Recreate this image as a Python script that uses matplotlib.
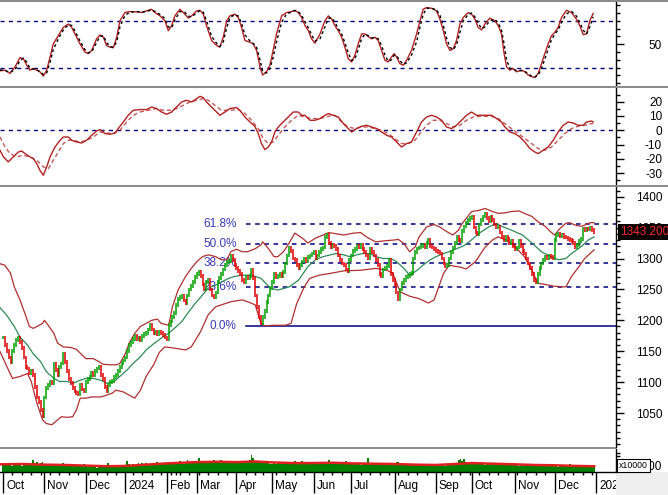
import numpy as np
import pandas as pd
import matplotlib
matplotlib.use("Agg")
import matplotlib.pyplot as plt
from matplotlib.patches import Rectangle
from matplotlib.transforms import blended_transform_factory

plt.rcParams["font.family"] = ["Liberation Sans", "DejaVu Sans"]
plt.rcParams["font.size"] = 8.5

# === 1. Datos ===
holidays = ["2024-01-01", "2024-02-08", "2024-02-09", "2024-02-12", "2024-02-13",
            "2024-02-14", "2024-04-18", "2024-04-29", "2024-04-30", "2024-05-01",
            "2024-09-02", "2024-09-03"]
trade_days = pd.bdate_range("2023-10-02", "2024-12-31")
trade_days = trade_days[~trade_days.isin(pd.to_datetime(holidays))]

close = [
    1172, 1160, 1150, 1140, 1132, 1150, 1160, 1168, 1172, 1165,
    1155, 1140, 1125, 1122, 1115, 1118, 1112, 1092, 1075, 1068,
    1055, 1045, 1075, 1090, 1095, 1100, 1098, 1130, 1120, 1112,
    1125, 1130, 1145, 1132, 1118, 1105, 1098, 1090, 1085, 1082,
    1080, 1095, 1088, 1085, 1100, 1105, 1108, 1115, 1112, 1118,
    1122, 1125, 1112, 1105, 1092, 1085, 1095, 1100, 1102, 1108,
    1112, 1118, 1125, 1130, 1135, 1140, 1150, 1160, 1165, 1170,
    1175, 1170, 1172, 1168, 1175, 1178, 1180, 1185, 1192, 1185,
    1180, 1182, 1178, 1182, 1180, 1176, 1172, 1170, 1192, 1198,
    1205, 1212, 1225, 1235, 1238, 1240, 1232, 1228, 1240, 1250,
    1256, 1262, 1270, 1275, 1278, 1272, 1258, 1250, 1262, 1265,
    1250, 1240, 1238, 1245, 1262, 1268, 1275, 1282, 1290, 1294,
    1296, 1305, 1298, 1290, 1285, 1280, 1275, 1265, 1262, 1270,
    1268, 1272, 1282, 1268, 1240, 1222, 1205, 1195, 1205, 1215,
    1230, 1240, 1252, 1262, 1275, 1270, 1272, 1275, 1272, 1278,
    1292, 1305, 1318, 1312, 1300, 1298, 1290, 1285, 1290, 1295,
    1300, 1296, 1302, 1305, 1308, 1310, 1300, 1305, 1310, 1315,
    1318, 1335, 1338, 1325, 1318, 1322, 1320, 1315, 1305, 1298,
    1292, 1290, 1282, 1280, 1298, 1305, 1312, 1315, 1320, 1318,
    1322, 1315, 1310, 1305, 1300, 1316, 1310, 1305, 1298, 1290,
    1275, 1272, 1282, 1285, 1288, 1298, 1275, 1265, 1258, 1245,
    1235, 1250, 1260, 1265, 1270, 1272, 1275, 1276, 1300, 1310,
    1316, 1318, 1320, 1322, 1318, 1325, 1330, 1320, 1318, 1315,
    1312, 1310, 1308, 1300, 1292, 1288, 1290, 1300, 1310, 1318,
    1325, 1335, 1330, 1328, 1345, 1352, 1358, 1362, 1365, 1368,
    1350, 1342, 1340, 1355, 1362, 1368, 1372, 1365, 1360, 1368,
    1362, 1355, 1350, 1352, 1342, 1335, 1330, 1335, 1332, 1325,
    1328, 1320, 1315, 1318, 1328, 1320, 1312, 1308, 1300, 1292,
    1285, 1275, 1265, 1262, 1275, 1285, 1292, 1298, 1302, 1300,
    1305, 1302, 1300, 1330, 1338, 1340, 1336, 1338, 1335, 1334,
    1332, 1330, 1328, 1325, 1318, 1322, 1328, 1332, 1348, 1346,
    1348, 1347, 1349, 1346, 1343.2,
]

# volumen (x10000 cp, en miles)
volume = [
    26, 24, 22, 28, 25, 20, 23, 27, 21, 24, 19, 25, 29, 22, 26, 24, 38, 27, 30, 26, 28, 31,
    22, 20, 24, 18, 21, 25, 19, 23, 20, 22, 27, 18, 21, 24, 20, 19, 23, 21, 18, 22, 20, 25,
    18, 16, 20, 15, 17, 19, 14, 18, 16, 21, 17, 15, 28, 19, 17, 16, 20, 18, 15, 17, 19,
    20, 35, 24, 22, 26, 21, 25, 28, 23, 27, 24, 29, 26, 22, 25, 28, 24, 30, 26, 23, 27, 25,
    26, 29, 24, 28, 32, 30, 27, 33, 29, 26, 31, 38, 30, 28, 34, 31,
    32, 44, 35, 30, 34, 29, 36, 33, 31, 38, 35, 30, 33, 37, 32, 29, 34, 31, 36, 33, 30,
    29, 33, 31, 28, 35, 30, 32, 38, 52, 45, 36, 33, 30, 28, 32, 29, 27, 31, 26,
    24, 27, 25, 30, 28, 26, 29, 25, 27, 31, 28, 26, 36, 30, 27, 29, 33, 28, 26, 30, 27, 25,
    28, 26, 30, 27, 29, 32, 27, 25, 38, 30, 28, 31, 27, 29, 26, 30, 28, 33, 27, 29,
    25, 27, 24, 28, 26, 23, 25, 27, 24, 44, 28, 26, 23, 25, 27, 22, 24, 26, 23, 25, 28, 24, 26,
    25, 30, 32, 27, 24, 22, 26, 23, 21, 24, 22, 25, 23, 21, 24, 22, 20, 23, 25, 22, 24, 21,
    20, 22, 19, 21, 23, 20, 22, 24, 21, 25, 27, 23, 38, 42, 35, 40, 30, 28, 26,
    28, 25, 27, 24, 26, 29, 25, 23, 26, 24, 22, 25, 27, 23, 24, 22, 26, 21, 23, 25, 22, 24, 23,
    21, 23, 20, 22, 19, 24, 21, 20, 22, 25, 21, 23, 19, 22, 20, 21, 24, 20, 22, 19, 21,
    18, 20, 17, 19, 21, 18, 20, 17, 24, 19, 18, 20, 17, 19, 18, 16, 19, 17, 18, 22, 16, 17,
]

vol_ma = [(-2, 24), (10, 25), (22, 23), (33, 22), (44, 20), (55, 18), (65, 19), (76, 23),
          (87, 27), (95, 29), (103, 31), (114, 32), (124, 31), (134, 33), (143, 30),
          (154, 28), (165, 28), (175, 29), (185, 27), (196, 26), (208, 25), (219, 23),
          (230, 22), (240, 25), (249, 28), (260, 26), (272, 24), (282, 22), (293, 21),
          (304, 19), (314, 18)]

# Bandas de Bollinger (dia, valor)
bb_upper = [(-2, 1292), (1, 1289), (4, 1276), (6, 1254), (9, 1233), (12, 1208), (14, 1190),
            (16, 1187), (18, 1190), (21, 1195), (22, 1200), (24, 1192), (27, 1179), (29, 1163),
            (32, 1157), (36, 1156), (39, 1153), (42, 1144), (44, 1138), (48, 1138), (51, 1133),
            (53, 1129), (57, 1128), (60, 1128), (62, 1130), (65, 1146), (67, 1163), (70, 1179),
            (73, 1190), (76, 1195), (79, 1200), (82, 1202), (84, 1195), (88, 1192), (90, 1222),
            (93, 1249), (97, 1271), (100, 1284), (103, 1295), (106, 1303), (109, 1306),
            (113, 1303), (116, 1298), (119, 1298), (121, 1311), (124, 1315), (127, 1311),
            (130, 1311), (134, 1316), (137, 1322), (138, 1327), (141, 1316), (144, 1303),
            (146, 1303), (149, 1311), (152, 1325), (155, 1341), (159, 1333), (162, 1325),
            (166, 1333), (170, 1338), (173, 1342), (177, 1340), (181, 1338), (186, 1341),
            (190, 1342), (193, 1335), (196, 1330), (198, 1327), (204, 1329), (208, 1330),
            (210, 1331), (213, 1324), (216, 1311), (219, 1319), (221, 1335), (225, 1351),
            (229, 1355), (232, 1351), (236, 1343), (239, 1338), (242, 1346), (244, 1357),
            (249, 1376), (253, 1378), (256, 1381), (260, 1376), (263, 1373), (267, 1374),
            (270, 1376), (274, 1377), (277, 1373), (281, 1368), (284, 1360), (288, 1352),
            (291, 1343), (293, 1338), (296, 1349), (299, 1357), (301, 1358), (304, 1354),
            (307, 1352), (309, 1354), (312, 1358), (314, 1358)]
bb_mid = [(-2, 1222), (2, 1208), (6, 1190), (9, 1173), (13, 1160), (16, 1146), (20, 1133),
          (23, 1117), (27, 1106), (30, 1101), (34, 1101), (37, 1098), (41, 1103), (44, 1106),
          (48, 1106), (52, 1103), (55, 1098), (59, 1101), (62, 1109), (66, 1120), (69, 1130),
          (73, 1141), (76, 1152), (80, 1162), (84, 1171), (88, 1179), (91, 1187), (95, 1198),
          (98, 1211), (102, 1227), (106, 1241), (109, 1252), (113, 1257), (116, 1262),
          (120, 1268), (123, 1271), (127, 1273), (132, 1273), (137, 1268), (142, 1252),
          (146, 1249), (152, 1254), (157, 1265), (162, 1287), (166, 1298), (170, 1303),
          (174, 1306), (177, 1308), (181, 1306), (184, 1303), (188, 1306), (191, 1308),
          (195, 1308), (198, 1303), (202, 1300), (206, 1300), (209, 1295), (213, 1284),
          (216, 1273), (220, 1281), (223, 1289), (227, 1298), (230, 1303), (234, 1308),
          (237, 1311), (241, 1316), (245, 1321), (248, 1328), (253, 1341), (258, 1351),
          (262, 1357), (265, 1352), (270, 1346), (276, 1338), (281, 1325), (286, 1311),
          (291, 1303), (295, 1298), (299, 1300), (302, 1308), (307, 1319), (311, 1330),
          (314, 1335)]
bb_lower = [(-2, 1152), (5, 1106), (9, 1109), (13, 1114), (15, 1101), (18, 1066), (21, 1039),
            (23, 1033), (26, 1031), (29, 1039), (31, 1044), (34, 1043), (37, 1044), (39, 1055),
            (41, 1074), (44, 1074), (47, 1076), (52, 1076), (55, 1079), (58, 1082), (60, 1087),
            (64, 1084), (67, 1079), (70, 1074), (73, 1087), (76, 1109), (80, 1128), (83, 1148),
            (86, 1157), (91, 1155), (97, 1152), (100, 1157), (105, 1182), (109, 1209),
            (113, 1222), (116, 1225), (121, 1230), (127, 1233), (130, 1230), (134, 1225),
            (137, 1195), (139, 1191), (144, 1192), (150, 1192), (153, 1195), (156, 1227),
            (160, 1254), (163, 1268), (168, 1273), (174, 1276), (181, 1280), (190, 1281),
            (198, 1284), (204, 1281), (207, 1276), (211, 1246), (216, 1239), (221, 1235),
            (226, 1228), (229, 1233), (234, 1276), (237, 1289), (243, 1286), (246, 1283),
            (251, 1295), (256, 1318), (260, 1330), (263, 1335), (267, 1330), (272, 1319),
            (277, 1303), (281, 1281), (284, 1260), (288, 1258), (293, 1255), (299, 1254),
            (302, 1271), (306, 1287), (309, 1300), (314, 1314)]

# Estocastico %K / %D
sto_day = [-1.6, 1.1, 3.7, 6.4, 9.0, 10.8, 12.6, 14.3, 16.1, 17.9,
           19.6, 21.4, 23.2, 25.0, 26.7, 29.4, 32.0, 34.7, 36.5, 38.2,
           40.9, 43.5, 45.3, 47.1, 49.7, 51.5, 53.3, 55.0, 56.8, 58.6,
           60.4, 62.1, 64.8, 67.4, 71.0, 73.6, 76.3, 78.9, 80.7, 83.4,
           86.0, 87.8, 89.6, 91.3, 94.0, 96.6, 98.4, 100.2, 102.8, 104.6,
           106.4, 108.1, 110.8, 113.5, 115.2, 117.0, 118.8, 120.5, 123.2, 125.0,
           126.7, 128.5, 131.2, 132.9, 134.7, 136.5, 137.9, 140.0, 141.8, 143.5,
           145.3, 148.0, 150.6, 153.3, 155.0, 156.8, 158.6, 160.4, 162.2, 163.9,
           165.7, 168.4, 171.0, 172.8, 174.6, 176.3, 178.1, 179.9, 181.6, 183.4,
           185.2, 186.9, 188.7, 190.5, 192.3, 194.0, 195.8, 197.6, 199.3, 201.1,
           202.9, 204.6, 206.4, 207.8, 209.1, 210.8, 212.6, 214.4, 217.0, 219.7,
           221.5, 223.2, 225.0, 227.7, 230.3, 232.1, 233.9, 235.6, 237.4, 239.2,
           240.9, 242.7, 244.5, 247.1, 248.9, 250.7, 252.4, 254.2, 256.0, 258.6,
           261.3, 263.1, 264.8, 266.2, 267.5, 269.2, 271.0, 272.8, 275.4, 277.2,
           279.0, 280.8, 282.5, 284.3, 286.1, 287.8, 289.6, 291.4, 293.1, 294.9,
           296.7, 299.3, 302.0, 304.6, 306.4, 308.2, 310.0, 311.7, 313.5]
sto_k = [15.8, 16.6, 12.4, 20.9, 32.7, 31.4, 23.0, 16.6, 18.7, 16.6,
         14.5, 9.0, 16.6, 33.5, 50.4, 61.0, 71.5, 75.8, 71.5, 63.1,
         50.4, 39.9, 37.8, 42.0, 56.8, 61.8, 58.9, 48.3, 46.2, 45.4,
         58.9, 80.0, 90.6, 91.8, 91.4, 90.6, 92.7, 94.8, 90.6, 86.3,
         80.0, 67.3, 73.7, 86.3, 94.8, 88.5, 83.4, 86.3, 92.7, 93.5,
         88.5, 73.7, 54.7, 48.3, 46.2, 58.9, 80.0, 86.3, 88.5, 84.2,
         71.5, 54.7, 52.5, 50.4, 42.0, 20.9, 10.3, 14.5, 23.0, 42.0,
         63.1, 86.3, 90.6, 91.8, 93.5, 90.6, 84.2, 74.0, 67.3, 56.8,
         51.3, 63.1, 80.0, 86.3, 82.1, 73.7, 67.3, 58.9, 46.2, 31.4,
         27.2, 35.6, 50.4, 63.1, 63.1, 59.7, 56.8, 58.9, 54.7, 42.0,
         29.3, 27.2, 33.5, 37.8, 33.5, 25.1, 23.0, 29.3, 42.0, 63.1,
         80.0, 94.8, 96.9, 96.1, 92.7, 82.1, 67.3, 50.4, 42.0, 44.1,
         54.7, 75.8, 84.2, 90.6, 88.5, 82.1, 71.5, 68.2, 75.8, 83.4,
         80.0, 73.7, 63.1, 37.8, 20.9, 16.6, 18.7, 14.5, 16.6, 14.5,
         10.3, 8.2, 7.3, 12.4, 25.1, 37.8, 50.4, 61.0, 65.2, 71.5,
         84.2, 93.5, 90.6, 82.1, 73.7, 62.3, 63.1, 80.0, 89.3]
sto_d = [17, 16, 14, 17, 29, 32, 27, 19, 18, 17,
         15, 11, 13, 27, 43, 57, 68, 75, 74, 67,
         54, 43, 39, 40, 52, 60, 61, 52, 47, 46,
         53, 72, 87, 91, 92, 91, 92, 94, 92, 88,
         83, 72, 71, 81, 92, 91, 86, 85, 90, 93,
         91, 80, 60, 51, 47, 53, 71, 84, 88, 86,
         77, 62, 54, 51, 46, 30, 15, 13, 19, 33,
         53, 78, 89, 91, 93, 92, 87, 79, 71, 62,
         54, 57, 72, 83, 84, 78, 70, 63, 52, 39,
         29, 31, 43, 57, 63, 61, 58, 58, 57, 48,
         36, 28, 30, 36, 35, 29, 24, 26, 36, 53,
         72, 88, 96, 96, 94, 87, 74, 58, 46, 43,
         49, 65, 80, 88, 90, 85, 77, 70, 72, 80,
         82, 77, 68, 50, 30, 19, 18, 16, 16, 15,
         12, 9, 8, 10, 19, 31, 44, 56, 63, 68,
         78, 89, 92, 86, 78, 68, 63, 72, 85]

# MACD y senal (dia, valor)
macd_line = [(-1.6, -14.0), (0.2, -18.6), (2.8, -22.1), (5.5, -18.6), (8.1, -15.2), (9.9, -14.5),
             (11.7, -16.3), (14.3, -18.6), (16.1, -19.8), (17.9, -23.3), (19.6, -28.0), (21.4, -31.5),
             (23.2, -25.6), (25.0, -18.6), (27.6, -11.7), (30.3, -7.0), (32.0, -4.7), (34.7, -4.7),
             (36.5, -7.0), (39.1, -8.2), (41.8, -8.9), (44.4, -7.0), (47.1, -3.5), (49.7, -0.5),
             (51.5, 0.5), (54.2, -2.3), (56.8, -2.8), (59.5, -1.9), (61.2, 1.2), (63.9, 5.8),
             (66.5, 10.5), (69.2, 14.0), (72.7, 14.5), (76.3, 14.5), (78.9, 16.3), (81.6, 15.2),
             (84.2, 12.8), (86.9, 11.2), (89.6, 12.8), (92.2, 16.3), (94.9, 19.8), (97.5, 21.0),
             (100.2, 19.8), (102.8, 22.1), (104.6, 23.8), (106.4, 22.8), (108.1, 19.8), (110.8, 16.3),
             (113.5, 12.8), (115.2, 10.5), (117.9, 12.8), (120.5, 15.2), (124.1, 15.9), (125.8, 14.0),
             (128.5, 9.3), (131.2, 5.8), (133.8, 2.8), (135.6, -2.3), (137.3, -9.3), (139.1, -13.5),
             (140.9, -11.7), (142.7, -8.2), (144.4, -1.2), (146.2, 2.3), (148.8, 5.8), (151.5, 9.3),
             (154.2, 12.8), (156.8, 12.8), (158.6, 10.5), (160.4, 10.5), (163.1, 7.0), (165.7, 7.0),
             (168.4, 8.2), (171.0, 10.5), (172.8, 11.7), (175.4, 10.5), (178.1, 9.3), (180.8, 4.7),
             (183.4, 1.2), (185.2, -1.2), (187.8, 1.2), (190.5, 2.8), (193.1, 3.5), (195.8, 2.3),
             (198.5, 1.2), (201.1, -1.2), (203.8, -3.5), (206.4, -4.7), (209.1, -8.2), (211.7, -11.7),
             (214.4, -9.3), (217.0, -8.2), (219.7, -1.2), (222.3, 5.8), (225.0, 9.3), (227.7, 10.5),
             (230.3, 9.3), (233.0, 7.0), (235.6, 2.3), (238.3, 1.2), (240.9, 3.5), (243.6, 7.0),
             (246.2, 10.5), (248.9, 12.8), (251.5, 10.5), (254.2, 10.5), (256.9, 10.5), (259.5, 10.5),
             (262.2, 8.2), (264.8, 5.8), (266.6, 2.3), (269.2, -1.2), (271.9, -2.3), (274.6, -4.7),
             (277.2, -8.2), (279.9, -12.8), (282.5, -15.2), (284.3, -16.3), (287.0, -14.0), (289.6, -11.7),
             (292.3, -7.0), (294.9, -1.2), (297.6, 3.5), (300.2, 5.8), (302.9, 5.1), (305.5, 3.5),
             (308.2, 3.5), (310.0, 5.8), (312.6, 6.5), (313.5, 5.8)]
macd_signal = [(-1.6, -4.7), (1.1, -11.7), (3.7, -16.3), (7.3, -18.6), (10.8, -17.5), (14.3, -18.6),
               (17.9, -21.0), (21.4, -25.6), (24.1, -26.8), (26.7, -21.0), (29.4, -15.2), (32.0, -9.3),
               (34.7, -7.0), (37.3, -7.0), (40.9, -8.2), (44.4, -7.0), (48.0, -4.7), (51.5, -1.2),
               (55.0, -1.9), (58.6, -2.3), (62.1, 0.0), (65.7, 5.8), (69.2, 10.5), (72.7, 12.8),
               (77.2, 14.0), (81.6, 15.2), (85.1, 14.0), (88.7, 14.0), (92.2, 15.2), (95.8, 17.5),
               (99.3, 19.8), (102.8, 21.0), (106.4, 22.1), (109.0, 21.0), (112.6, 17.5), (116.1, 14.0),
               (120.5, 14.0), (125.0, 14.5), (128.5, 11.7), (132.0, 7.0), (135.6, 1.2), (138.2, -5.8),
               (140.9, -9.3), (143.5, -8.2), (146.2, -3.5), (149.7, 2.3), (153.3, 7.0), (156.8, 10.5),
               (160.4, 9.3), (163.9, 8.2), (168.4, 8.2), (172.8, 9.8), (176.3, 10.5), (179.9, 5.8),
               (183.4, 2.3), (187.0, 1.2), (190.5, 2.3), (194.0, 2.3), (197.6, 1.2), (201.1, 0.0),
               (204.6, -2.3), (208.2, -5.8), (211.7, -9.3), (215.3, -9.3), (218.8, -7.0), (221.5, -2.3),
               (225.0, 3.5), (228.5, 7.0), (232.1, 7.0), (235.6, 4.7), (239.2, 2.3), (242.7, 3.5),
               (246.2, 7.0), (249.8, 9.3), (254.2, 9.8), (259.5, 9.8), (263.1, 8.2), (266.6, 4.7),
               (270.1, 1.2), (273.7, -2.3), (277.2, -5.8), (280.8, -9.3), (284.3, -12.8), (287.8, -14.0),
               (291.4, -11.7), (294.9, -7.0), (298.5, -2.3), (302.0, 1.2), (305.5, 2.8), (309.1, 3.5),
               (312.6, 4.7), (313.5, 4.7)]

# Fibonacci
fib_low, fib_high = 1190.0, 1457.5
fib_start = 129
fib_levels = [0.0, 23.6, 38.2, 50.0, 61.8]
last_price = 1343.2

# === 2. Ejes de meses ===
n = min(len(close), len(trade_days))
mon = pd.Series(np.asarray(trade_days.month, dtype=int))
month_idx = list(np.flatnonzero((mon != mon.shift()).to_numpy(dtype=bool))) + [len(trade_days)]
month_lbl = ["2024" if trade_days[i].month == 1 else trade_days[i].strftime("%b")
             for i in month_idx[:-1]] + ["2025"]
wk = pd.Series(np.asarray(trade_days.isocalendar().week, dtype=int))
week_idx = list(np.flatnonzero((wk != wk.shift()).to_numpy(dtype=bool)))

# === 3. Figura ===
W, H = 668.0, 495.0
R = 616.0  # borde derecho del area de trazado (px)
fig = plt.figure(figsize=(W / 100, H / 100), dpi=100)
XL = (-1.6, (R - 3) / 1.8825)


def panel(top, bottom):
    return fig.add_axes([0, 1 - bottom / H, R / W, (bottom - top) / H])


ax_sto = panel(2, 86)
ax_macd = panel(88, 185)
ax_px = panel(187, 447)
ax_vol = panel(449, 472)

for ax in (ax_sto, ax_macd, ax_px, ax_vol):
    ax.set_xlim(*XL)
    for side in ("left", "top", "bottom"):
        ax.spines[side].set_visible(False)
    ax.spines["right"].set_linewidth(1)
    ax.yaxis.tick_right()
    ax.tick_params(axis="x", which="both", bottom=False, labelbottom=False)
    ax.tick_params(axis="y", which="major", length=6, width=1, pad=27.2, labelsize=8.5)
    ax.tick_params(axis="y", which="minor", length=3, width=1)

fig.add_artist(Rectangle((R / W, 0), 1 - R / W, 1 - 472 / H,
                         transform=fig.transFigure, color="#efefef", lw=0, zorder=0))
for top, bot, right in [(0, 2, 1), (86, 88, 1), (185, 187, 1), (447, 449, R / W)]:
    fig.add_artist(Rectangle((0, 1 - bot / H), right, (bot - top) / H,
                             transform=fig.transFigure, color="#8c8c8c", lw=0))

navy = "#000080"
dash = (0, (3, 3))

# (1) Estocastico
ax_sto.set_ylim(-3.7, 104.1)
for lv in (20, 80):
    ax_sto.axhline(lv, color=navy, lw=1, ls=dash)
ax_sto.plot(sto_day, sto_k, color="#b22222", lw=1)
ax_sto.plot(sto_day, sto_d, color="black", lw=1, ls=(0, (2, 2)))
ax_sto.set_yticks([50], ["50"], ha="right")
ax_sto.set_yticks([0, 10, 20, 30, 40, 60, 70, 80, 90, 100], minor=True)

# (2) MACD
ax_macd.set_ylim(-38.3, 29.6)
ax_macd.axhline(0, color=navy, lw=1, ls=dash)
mx, my = zip(*macd_line)
sx, sy = zip(*macd_signal)
ax_macd.plot(mx, my, color="#b22222", lw=1)
ax_macd.plot(sx, sy, color="#b22222", lw=1, ls=(0, (3, 2)), alpha=0.75)
mt = [-30, -20, -10, 0, 10, 20]
ax_macd.set_yticks(mt, [str(t) for t in mt], ha="right")
ax_macd.set_yticks(np.arange(-35, 30, 5), minor=True)

# (3) Precio
ax_px.set_ylim(995.0, 1415.7)
for pts, col in ((bb_upper, "#b03030"), (bb_lower, "#b03030"), (bb_mid, "#2e8b57")):
    bx, by = zip(*pts)
    ax_px.plot(bx, by, color=col, lw=0.9, zorder=2)

for lvl in fib_levels:
    y = fib_low + (fib_high - fib_low) * lvl / 100
    ax_px.plot([fib_start, XL[1]], [y, y], color=navy, lw=1.1,
               ls="-" if lvl == 0 else dash, zorder=1)
    ax_px.annotate(f"{lvl:.1f}%", xy=(fib_start, y), xytext=(-9, 0),
                   textcoords="offset pixels", ha="right", va="center",
                   color="#3a3ab8", fontsize=8.5, zorder=1)

c = np.array(close[:n], dtype=float)
o = np.r_[c[0], c[:-1]]
x = np.arange(n)
up = c >= o
lo = np.minimum(o, c) - 3
hi = np.maximum(o, c) + 3
ax_px.vlines(x[up], lo[up], hi[up], color="#00a000", lw=1.1, zorder=3)
ax_px.vlines(x[~up], lo[~up], hi[~up], color="#e00000", lw=1.1, zorder=3)

pt = list(range(1050, 1401, 50))
ax_px.set_yticks(pt, [str(t) for t in pt], ha="right")
ax_px.set_yticks(np.arange(1000, 1411, 10), minor=True)

trans = blended_transform_factory(fig.transFigure, ax_px.transData)
ax_px.text(620 / W, last_price, "1343.200", transform=trans, ha="left", va="center",
           color="#ff2a2a", fontsize=8.5, clip_on=False, zorder=10,
           bbox=dict(boxstyle="square,pad=0.15", fc="black", ec="none"))

# (4) Volumen
ax_vol.set_ylim(0, 72)
ax_vol.bar(np.arange(len(volume)), volume, width=1.0, color="#008000", lw=0)
vx, vy = zip(*vol_ma)
ax_vol.plot(vx, vy, color="#e02020", lw=1.8)
ax_vol.spines["bottom"].set_visible(True)
ax_vol.spines["bottom"].set_linewidth(1)
ax_vol.set_yticks([20], ["2000"], ha="right")
ax_vol.set_yticks([50, 60], minor=True)
ax_vol.set_xticks(month_idx, [""] * len(month_idx))
ax_vol.set_xticks(week_idx, minor=True)
ax_vol.tick_params(axis="x", which="major", bottom=True, length=15, width=1)
ax_vol.tick_params(axis="x", which="minor", bottom=True, length=2.5, width=1)

clip_box = Rectangle((0, 0), R / W, 1, transform=fig.transFigure)
for i, lbl in zip(month_idx, month_lbl):
    t = ax_vol.annotate(lbl, xy=(i, 0), xycoords=("data", "axes fraction"),
                        xytext=(3, -8), textcoords="offset pixels",
                        ha="left", va="top", fontsize=8.5, annotation_clip=False)
    t.set_clip_path(clip_box)
    t.set_clip_on(True)

fig.text(619 / W, 1 - 465.5 / H, "x10000", fontsize=6.3, ha="left", va="center", zorder=10,
         bbox=dict(boxstyle="square,pad=0.2", fc="white", ec="black", lw=0.8))

fig.savefig("out.png", dpi=100)
